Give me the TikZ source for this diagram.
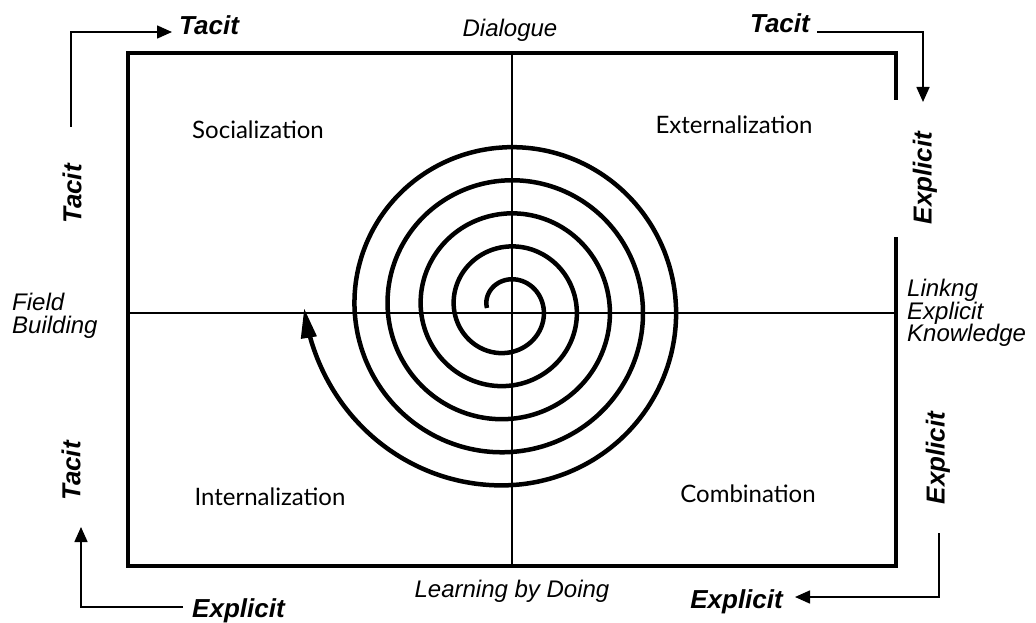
\documentclass[tikz,border=0pt]{standalone}
\usepackage{fontspec}
\setsansfont{Liberation Sans}
\newfontfamily\quadfont{Lato}
\usetikzlibrary{arrows.meta}

\begin{document}
\begin{tikzpicture}[x=1pt,y=-1pt,
  every node/.style={inner sep=0pt},
  side/.style={font=\sffamily\bfseries\itshape\fontsize{26}{26}\selectfont},
  axislab/.style={font=\sffamily\itshape\fontsize{24}{22.5}\selectfont},
  mode/.style={font=\quadfont\fontsize{24}{24}\selectfont},
  turn/.style={line width=1.6pt,-{Triangle[length=15pt,width=13pt]}},
  declare function={sr(\t)=20+0.092*\t+0.00214*max(0,\t-1710)*max(0,\t-1710);}]
\useasboundingbox (0,0) rectangle (1036,623);
% frame, open on the right for the label
\draw[line width=3.5pt] (896,100) -- (896,53) -- (128,53) -- (128,566) -- (896,566) -- (896,237);
% cross
\draw[line width=2pt] (128,313) -- (896,313);
\draw[line width=2pt] (512,53) -- (512,566);
% spiral
\draw[line width=4.5pt, -{Triangle[length=30pt,width=15pt]}]
  plot[domain=0:1800, samples=361, smooth] ({507+sr(\x)*cos(180+\x)}, {308+sr(\x)*sin(180+\x)});
% quadrant names
\node[mode] (soc) at (258,130) {Socialization};
\node[mode] (ext) at (734,125) {Externalization};
\node[mode] (int) at (270,497) {Internalization};
\node[mode] (com) at (748,494) {Combination};
% axis labels
\node[axislab, anchor=base] (dia) at (510,37) {Dialogue};
\node[axislab, anchor=base] (lbd) at (512,597) {Learning by Doing};
\node[axislab, anchor=west, align=left] (fb) at (12,316) {Field\\Building};
\node[axislab, anchor=west, align=left] (lek) at (907,313) {Linkng\\Explicit\\Knowledge};
% tacit / explicit
\node[side, anchor=base west] (tacA) at (179,35) {Tacit};
\node[side, anchor=base east] (tacB) at (810,33) {Tacit};
\node[side, rotate=90] (expA) at (925,178) {Explicit};
\node[side, rotate=90] (expB) at (938,458) {Explicit};
\node[side, anchor=base east] (expC) at (783,608) {Explicit};
\node[side, anchor=base west] (expD) at (192,617) {Explicit};
\node[side, rotate=90] (tacC) at (72,194) {Tacit};
\node[side, rotate=90] (tacD) at (71,471) {Tacit};
% turning arrows
\coordinate (a1) at (71,127);  \coordinate (a1e) at (172,32);
\coordinate (a2) at (817,32);  \coordinate (a2e) at (923,102);
\coordinate (a3) at (939,533); \coordinate (a3e) at (795,597);
\coordinate (a4) at (183,607); \coordinate (a4e) at (81,527);
\draw[turn] (a1) |- (a1e);
\draw[turn] (a2) -| (a2e);
\draw[turn] (a3) |- (a3e);
\draw[turn] (a4) -| (a4e);
\end{tikzpicture}
\end{document}
